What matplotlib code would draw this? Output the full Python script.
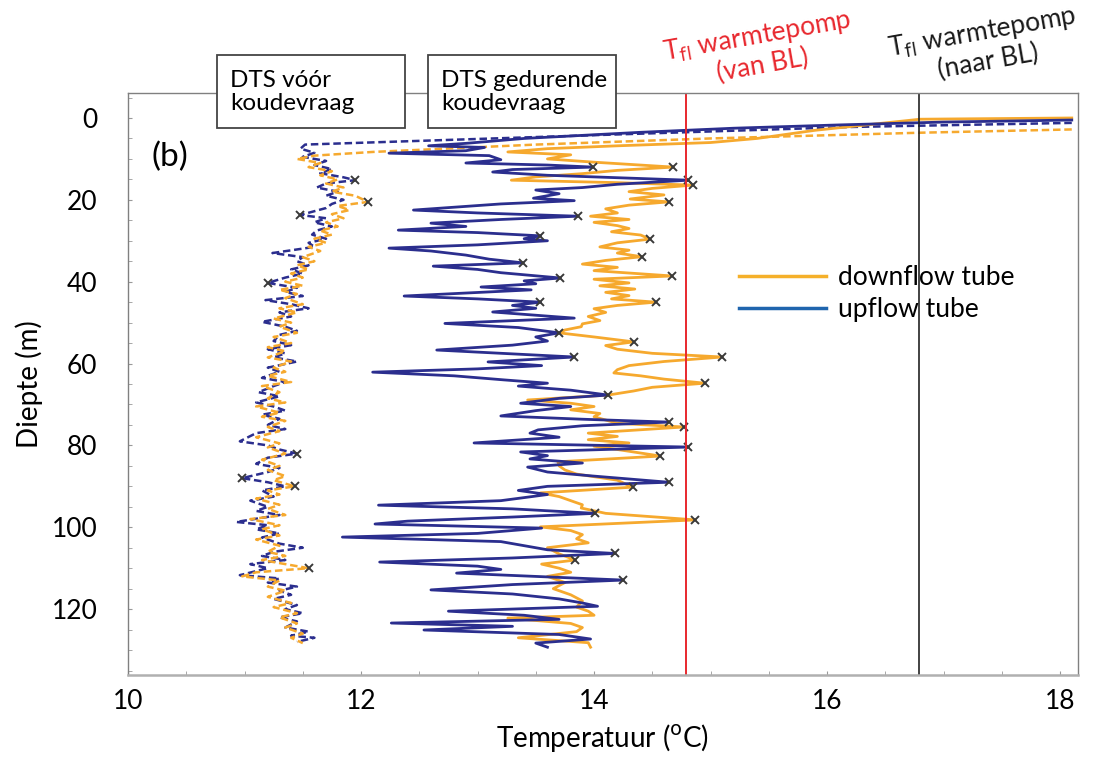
import matplotlib
matplotlib.use("Agg")
import matplotlib.pyplot as plt
from matplotlib.lines import Line2D
from matplotlib.patches import Rectangle
from matplotlib.ticker import MultipleLocator

plt.rcParams['font.family'] = ['Lato', 'DejaVu Sans']

# DTS gedurende koudevraag - upflow tube (depth m, temperature C)
up_depth = [0.5, 1.0, 1.7, 2.5, 3.5, 5.0, 6.2, 6.8, 7.2, 8.0, 8.6, 9.2, 10.2, 11.0, 11.5, 12.0,
            12.6, 13.2, 14.0, 15.2, 16.2, 17.0, 17.6, 18.5, 19.6, 20.2, 21.0, 22.5, 23.2, 24.0,
            24.8, 25.7, 26.5, 27.4, 28.0, 28.8, 29.5, 30.0, 31.0, 31.8, 32.5, 33.5, 34.5, 35.4,
            36.2, 37.0, 37.8, 39.1, 39.8, 40.5, 41.3, 42.0, 43.5, 44.2, 45.0, 45.8, 46.5, 47.4,
            48.9, 50.2, 51.2, 52.5, 53.5, 54.5, 55.5, 56.7, 57.5, 58.4, 59.6, 60.5, 61.3, 62.1,
            63.0, 64.0, 64.8, 65.5, 66.5, 67.7, 68.5, 69.7, 70.5, 71.5, 72.8, 73.6, 74.3, 75.2,
            76.2, 77.0, 78.0, 79.4, 80.4, 81.6, 82.5, 83.3, 84.3, 85.3, 86.5, 87.5, 89.0, 90.0,
            91.0, 92.0, 93.5, 94.6, 95.5, 96.6, 97.5, 98.5, 99.2, 100.2, 101.5, 102.4, 103.5,
            104.5, 105.5, 106.4, 107.5, 108.5, 109.5, 110.3, 111.2, 112.0, 112.9, 114.0, 115.3,
            116.3, 117.5, 118.5, 119.3, 120.5, 121.5, 122.5, 123.4, 124.2, 125.1, 126.2, 127.3,
            128.3, 129.3]
up_temp = [18.1, 17.0, 16.1, 15.2, 14.4, 13.4, 12.9, 12.58, 13.06, 12.9, 12.24, 13.1, 13.2, 12.9,
           13.6, 13.99, 13.3, 13.13, 13.6, 14.81, 14.2, 13.9, 13.5, 13.7, 13.48, 13.83, 13.2,
           12.45, 13.0, 13.86, 13.2, 12.6, 12.9, 12.32, 13.0, 13.54, 13.4, 13.6, 13.0, 12.24,
           12.6, 12.9, 13.1, 13.39, 12.62, 13.0, 13.2, 13.71, 13.4, 13.5, 13.03, 13.46, 12.37,
           13.0, 13.54, 13.3, 13.5, 13.13, 13.83, 12.72, 13.35, 13.70, 13.5, 13.6, 13.3, 12.65,
           13.2, 13.83, 13.09, 13.55, 13.0, 12.1, 12.8, 13.23, 13.6, 13.35, 13.8, 14.12, 13.7,
           13.37, 13.8, 13.5, 13.2, 13.9, 14.64, 13.9, 13.52, 13.45, 13.7, 12.97, 14.81, 13.37,
           13.6, 13.45, 13.9, 13.43, 13.6, 14.0, 14.64, 13.6, 13.35, 13.6, 13.2, 12.15, 13.3,
           14.01, 13.3, 12.4, 12.12, 13.55, 13.0, 11.84, 13.2, 13.4, 13.6, 14.18, 13.3, 12.16,
           13.0, 13.2, 12.82, 13.5, 14.25, 13.3, 12.6, 13.3, 13.7, 13.9, 14.03, 12.75, 13.4,
           13.7, 12.26, 13.3, 12.54, 13.7, 13.97, 13.5, 13.6]

# DTS gedurende koudevraag - downflow tube
down_depth = [0.0, 0.3, 1.5, 3.0, 5.0, 6.0, 6.8, 7.5, 8.3, 9.0, 10.0, 10.8, 12.0, 12.8, 13.6,
              14.4, 15.2, 15.8, 16.4, 17.2, 18.0, 18.8, 19.8, 20.5, 21.3, 22.2, 23.2, 24.0, 24.8,
              25.5, 26.3, 27.0, 27.8, 28.6, 29.6, 30.5, 31.5, 32.3, 33.0, 33.9, 34.8, 35.7, 36.5,
              37.3, 38.6, 39.4, 40.3, 41.0, 41.8, 42.6, 43.4, 44.2, 45.0, 45.8, 46.6, 47.5, 48.5,
              49.5, 50.3, 51.0, 51.8, 52.5, 53.5, 54.7, 55.6, 56.5, 57.5, 58.4, 59.5, 60.5, 61.5,
              62.3, 63.0, 63.8, 64.8, 65.8, 66.7, 67.7, 68.9, 69.7, 70.5, 71.3, 72.2, 73.0, 73.8,
              74.6, 75.5, 77.0, 77.8, 78.6, 79.4, 80.2, 81.0, 82.6, 84.0, 85.0, 86.0, 87.0, 88.5,
              90.2, 91.6, 92.5, 93.5, 94.5, 95.3, 96.6, 98.2, 99.9, 100.8, 101.8, 102.8, 103.8,
              105.0, 106.5, 108.0, 109.0, 110.0, 111.0, 112.0, 113.5, 115.0, 116.5, 118.0, 119.5,
              120.5, 121.5, 122.2, 123.5, 124.5, 125.5, 127.0, 128.2, 129.3]
down_temp = [18.1, 16.8, 16.4, 15.9, 15.4, 15.0, 14.2, 13.6, 13.26, 13.8, 13.6, 14.0, 14.68, 14.2,
             13.9, 13.5, 13.29, 14.2, 14.85, 14.5, 14.3, 14.6, 14.31, 14.64, 14.3, 14.1, 14.2,
             13.97, 14.3, 14.0, 14.2, 14.3, 14.15, 14.4, 14.48, 14.2, 14.05, 14.3, 14.2, 14.41,
             14.1, 13.9, 14.2, 14.0, 14.67, 14.0, 14.3, 14.05, 14.35, 14.1, 14.3, 14.15, 14.53,
             14.2, 14.0, 14.1, 13.95, 14.05, 13.9, 13.89, 13.75, 13.70, 14.0, 14.34, 14.1, 14.2,
             14.5, 15.1, 14.6, 14.3, 14.2, 14.17, 14.4, 14.6, 14.95, 14.5, 14.34, 14.12, 13.43,
             13.8, 14.0, 13.8, 14.05, 14.0, 14.1, 14.2, 14.77, 13.95, 14.2, 13.95, 14.3, 14.0,
             14.2, 14.57, 13.69, 13.7, 13.75, 13.85, 14.2, 14.33, 13.54, 13.7, 13.8, 13.9, 13.89,
             14.1, 14.87, 13.54, 13.8, 13.9, 13.85, 13.95, 13.6, 13.7, 13.84, 13.55, 13.7, 13.8,
             13.6, 13.75, 13.65, 13.8, 13.9, 13.85, 13.95, 14.0, 13.26, 13.8, 13.9, 13.85, 13.35,
             13.95, 13.97]

# DTS voor koudevraag - upflow tube (dashed)
up0_depth = [1.2, 2.2, 4.2, 5.5, 6.5, 7.5, 8.5, 9.5, 10.5, 11.5, 12.5, 13.5, 14.5, 15.2, 16.0,
             17.0, 18.0, 19.0, 20.0, 21.0, 22.0, 23.7, 24.5, 25.5, 26.5, 27.5, 28.5, 29.5, 30.5,
             31.5, 33.0, 34.0, 35.0, 36.0, 37.0, 38.0, 39.0, 40.3, 41.5, 42.5, 43.5, 44.5, 45.5,
             46.5, 47.5, 48.5, 49.8, 51.0, 52.0, 53.0, 54.5, 55.5, 56.5, 57.5, 58.5, 59.5, 61.0,
             62.0, 63.5, 64.5, 65.5, 67.0, 68.0, 69.5, 70.5, 71.5, 72.5, 73.5, 75.0, 76.0, 77.0,
             79.0, 80.0, 81.0, 82.0, 83.0, 84.5, 85.5, 86.5, 88.0, 89.0, 90.0, 91.0, 92.5, 93.5,
             95.0, 96.0, 97.0, 98.7, 99.5, 100.5, 101.5, 102.5, 104.0, 105.0, 106.0, 107.0, 108.0,
             109.0, 110.0, 111.7, 112.5, 113.5, 114.5, 115.5, 116.5, 117.5, 119.0, 120.0, 121.0,
             122.0, 123.0, 124.5, 125.5, 126.5, 127.0, 128.0]
up0_temp = [18.1, 16.2, 14.0, 12.6, 11.52, 11.48, 11.6, 11.5, 11.7, 11.6, 11.75, 11.65, 11.85,
            11.95, 11.7, 11.62, 11.8, 11.7, 11.85, 11.75, 11.7, 11.48, 11.7, 11.6, 11.75, 11.62,
            11.58, 11.7, 11.55, 11.6, 11.24, 11.5, 11.45, 11.55, 11.4, 11.5, 11.35, 11.2, 11.45,
            11.35, 11.5, 11.18, 11.4, 11.55, 11.3, 11.4, 11.15, 11.35, 11.45, 11.3, 11.25, 11.4,
            11.2, 11.35, 11.25, 11.45, 11.2, 11.3, 11.15, 11.35, 11.25, 11.12, 11.3, 11.1, 11.25,
            11.35, 11.15, 11.3, 11.2, 11.35, 11.1, 10.96, 11.2, 11.3, 11.45, 11.2, 11.1, 11.3,
            11.2, 10.98, 11.2, 11.35, 11.15, 11.25, 11.05, 11.2, 11.1, 11.3, 10.93, 11.2, 11.1,
            11.3, 11.15, 11.3, 11.5, 11.25, 11.15, 11.35, 11.05, 11.2, 10.96, 11.3, 11.2, 11.45,
            11.3, 11.4, 11.25, 11.45, 11.35, 11.5, 11.3, 11.45, 11.35, 11.55, 11.4, 11.6, 11.45]

# DTS voor koudevraag - downflow tube (dashed)
down0_depth = [2.8, 3.6, 5.0, 6.5, 8.3, 9.2, 10.0, 11.0, 12.0, 13.0, 14.0, 15.0, 16.0, 17.0,
               18.0, 19.0, 20.5, 21.5, 22.5, 23.5, 24.5, 25.5, 26.5, 27.5, 28.5, 29.5, 30.5,
               31.5, 32.5, 34.0, 35.0, 36.0, 37.0, 38.0, 39.0, 40.0, 41.0, 42.0, 43.0, 44.0,
               45.5, 46.5, 47.5, 49.0, 50.0, 51.0, 52.5, 53.5, 55.0, 56.0, 57.0, 58.5, 59.5,
               61.0, 62.0, 63.0, 64.5, 65.5, 67.0, 68.5, 69.5, 70.5, 72.0, 73.0, 74.0, 75.5,
               76.5, 78.0, 79.5, 80.5, 82.0, 83.5, 85.0, 86.0, 87.5, 88.5, 90.0, 91.0, 92.0,
               93.0, 94.5, 95.5, 97.0, 98.0, 99.5, 100.5, 102.0, 103.0, 104.5, 106.0, 107.0,
               108.0, 110.0, 111.0, 112.0, 113.0, 114.5, 115.5, 117.0, 118.5, 119.5, 121.0,
               122.0, 123.5, 124.5, 126.0, 127.0, 128.3]
down0_temp = [18.1, 16.8, 15.0, 13.5, 12.1, 11.6, 11.45, 11.65, 11.55, 11.75, 11.65, 11.8, 11.7,
              11.85, 11.75, 11.95, 12.06, 11.8, 11.9, 11.75, 11.85, 11.7, 11.8, 11.65, 11.75,
              11.6, 11.7, 11.55, 11.65, 11.5, 11.6, 11.45, 11.55, 11.4, 11.5, 11.35, 11.5, 11.3,
              11.45, 11.35, 11.5, 11.3, 11.45, 11.25, 11.4, 11.3, 11.45, 11.25, 11.4, 11.2, 11.35,
              11.2, 11.4, 11.25, 11.35, 11.2, 11.4, 11.15, 11.3, 11.2, 11.35, 11.1, 11.3, 11.15,
              11.35, 11.2, 11.3, 11.1, 11.3, 11.2, 11.35, 11.15, 11.3, 11.2, 11.35, 11.25, 11.43,
              11.2, 11.3, 11.1, 11.3, 11.2, 11.35, 11.05, 11.3, 11.15, 11.3, 11.1, 11.3, 11.2,
              11.35, 11.15, 11.55, 11.1, 10.98, 11.3, 11.2, 11.35, 11.2, 11.4, 11.25, 11.45,
              11.3, 11.45, 11.35, 11.5, 11.4, 11.5]

# x markers at the local maxima
mark_depth = [12.0, 15.2, 24.0, 28.8, 35.4, 39.1, 45.0, 52.5, 58.4, 67.7, 74.3, 80.4, 89.0, 96.6,
              106.4, 112.9, 12.0, 16.4, 20.5, 29.6, 33.9, 38.6, 45.0, 54.7, 58.4, 64.8, 75.5,
              82.6, 90.2, 98.2, 108.0, 15.2, 20.5, 23.7, 40.3, 82.0, 88.0, 90.0, 110.0]
mark_temp = [13.99, 14.81, 13.86, 13.54, 13.39, 13.71, 13.54, 13.70, 13.83, 14.12, 14.64, 14.81,
             14.64, 14.01, 14.18, 14.25, 14.68, 14.85, 14.64, 14.48, 14.41, 14.67, 14.53, 14.34,
             15.1, 14.95, 14.77, 14.57, 14.33, 14.87, 13.84, 11.95, 12.06, 11.48, 11.2, 11.45,
             10.98, 11.43, 11.55]

t_van_bl = 14.79
t_naar_bl = 16.79

navy = '#2B2E8E'
orange = '#F6A92E'

fig = plt.figure(figsize=(10.94, 7.63), dpi=100)
ax = fig.add_axes([0.117, 0.1153, 0.868, 0.7628])

ax.plot(up0_temp, up0_depth, color=navy, lw=1.8, dashes=(3, 1.5))
ax.plot(down0_temp, down0_depth, color=orange, lw=1.8, dashes=(3, 1.5))
ax.plot(down_temp, down_depth, color=orange, lw=2.0)
ax.plot(up_temp, up_depth, color=navy, lw=2.0)
ax.plot(mark_temp, mark_depth, 'x', color='#3a3a3a', ms=5.5, mew=1.4)

ax.axvline(t_van_bl, color='#E8282E', lw=1.4)
ax.axvline(t_naar_bl, color='#222222', lw=1.2)

ax.set_xlim(10, 18.15)
ax.set_ylim(136.1, -6.1)
ax.xaxis.set_major_locator(MultipleLocator(2))
ax.xaxis.set_minor_locator(MultipleLocator(0.5))
ax.yaxis.set_major_locator(MultipleLocator(20))
ax.yaxis.set_minor_locator(MultipleLocator(5))
ax.tick_params(which='both', direction='in', color='#999999', labelsize=19, length=3)
ax.tick_params(axis='y', which='both', pad=22)
ax.tick_params(axis='x', which='both', pad=10)
for s in ax.spines.values():
    s.set_color('#808080')
    s.set_linewidth(1.0)
ax.spines['bottom'].set_linewidth(1.8)
ax.spines['bottom'].set_color('#b0b0b0')

ax.set_xlabel('Temperatuur ($^{\\mathrm{o}}$C)', fontsize=20, labelpad=6)
ax.set_ylabel('Diepte (m)', fontsize=20, labelpad=6)

ax.text(0.025, 0.89, '(b)', transform=ax.transAxes, fontsize=24, va='center', ha='left')

handles = [Line2D([], [], color='#F5B02A', lw=2.5), Line2D([], [], color='#1F65AE', lw=2.5)]
ax.legend(handles, ['downflow tube', 'upflow tube'], loc='upper left',
          bbox_to_anchor=(0.618, 0.745), frameon=False, fontsize=19,
          handlelength=3.3, handletextpad=0.45, labelspacing=0.25)

# annotation boxes above the axes
for x0, txt in [(217, 'DTS vóór\nkoudevraag'), (428, 'DTS gedurende\nkoudevraag')]:
    fig.patches.append(Rectangle((x0 / 1094, (763 - 128) / 763), 188 / 1094, 73 / 763,
                                 transform=fig.transFigure, fill=True, facecolor='white',
                                 edgecolor='#444444', lw=1.3, zorder=5))
    fig.text((x0 + 13) / 1094, (763 - 92) / 763, txt, fontsize=17.5, ha='left', va='center',
             linespacing=1.15, zorder=6)

fig.text(760 / 1094, (763 - 50) / 763, 'T$_{\\mathrm{fl}}$ warmtepomp\n(van BL)', color='#E8282E',
         fontsize=19, ha='center', va='center', rotation=10, linespacing=1.15,
         rotation_mode='anchor')
fig.text(985 / 1094, (763 - 46) / 763, 'T$_{\\mathrm{fl}}$ warmtepomp\n(naar BL)', color='#1a1a1a',
         fontsize=19, ha='center', va='center', rotation=10, linespacing=1.15,
         rotation_mode='anchor')

fig.savefig('out.png', dpi=100)
